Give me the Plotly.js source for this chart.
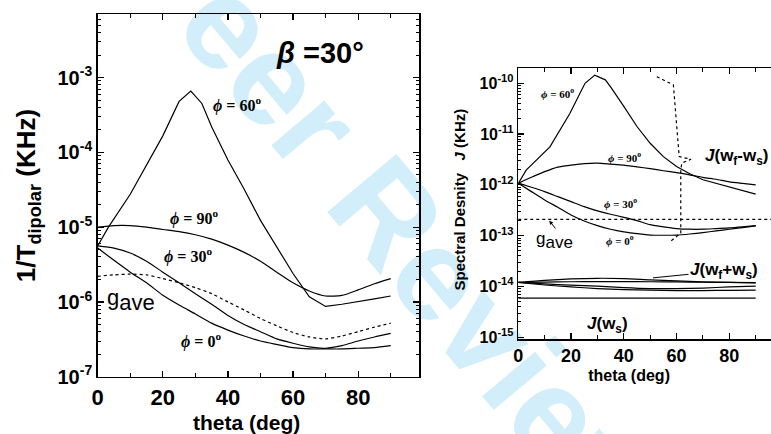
<!DOCTYPE html>
<html><head><meta charset="utf-8">
<script src="https://cdn.plot.ly/plotly-3.0.1.min.js"></script>
<style>html,body{margin:0;padding:0;background:#fff}#chart{width:771px;height:434px}</style>
</head><body><div id="chart"></div>
<script>
// ---------- Left panel data: 1/T_dipolar (KHz) vs theta (deg) ----------
const thetaL = [0,5,10,15,20,25,30,35,40,45,50,55,60,65,70,75,80,85,90];
const thetaL60 = [0,3.3,10,15,20,25,28.6,32,35,40,45,50,55,60,65,70,75,80,85,90];
const leftPhi60 = [5.6e-6,1.0e-5,2.75e-5,6.8e-5,1.66e-4,4.8e-4,6.6e-4,4.5e-4,2.2e-4,7.9e-5,3.2e-5,1.23e-5,5.5e-6,2.4e-6,1.17e-6,8.7e-7,9.3e-7,1.0e-6,1.1e-6,1.2e-6];
const leftPhi90 = [1.0e-5,1.05e-5,1.05e-5,1.0e-5,9.3e-6,8.7e-6,7.9e-6,6.9e-6,5.75e-6,4.6e-6,3.5e-6,2.5e-6,1.8e-6,1.4e-6,1.2e-6,1.22e-6,1.45e-6,1.75e-6,2.05e-6];
const leftPhi30 = [5.6e-6,5.25e-6,4.5e-6,3.5e-6,2.5e-6,1.8e-6,1.29e-6,9.3e-7,6.6e-7,5.0e-7,4.0e-7,3.2e-7,2.8e-7,2.5e-7,2.4e-7,2.6e-7,3.0e-7,3.4e-7,3.8e-7];
const leftPhi0  = [5.25e-6,3.6e-6,2.5e-6,1.8e-6,1.23e-6,9.1e-7,6.9e-7,5.2e-7,4.2e-7,3.5e-7,3.0e-7,2.7e-7,2.45e-7,2.35e-7,2.35e-7,2.35e-7,2.4e-7,2.45e-7,2.6e-7];
const leftGave  = [2.2e-6,2.3e-6,2.35e-6,2.3e-6,2.05e-6,1.8e-6,1.55e-6,1.29e-6,1.0e-6,7.8e-7,6.0e-7,4.8e-7,3.9e-7,3.4e-7,3.2e-7,3.5e-7,4.0e-7,4.6e-7,5.2e-7];
const leftTickVals = [1e-7,1e-6,1e-5,1e-4,1e-3];
const leftTickText = ['10<sup>-7</sup>','10<sup>-6</sup>','10<sup>-5</sup>','10<sup>-4</sup>','10<sup>-3</sup>'];

// ---------- Right panel data: Spectral density J (KHz) vs theta (deg) ----------
const thetaR = [0,5,10,15,20,25,30,35,40,45,50,55,60,65,70,75,80,85,90];
const thetaR60 = [0,3,12,19.6,25.3,29,33,35,40,45,50,55,60,65,70,80,90];
const rightPhi60 = [1.07e-12,1.95e-12,5.6e-12,2.57e-11,1.0e-10,1.45e-10,1.17e-10,8.5e-11,3.5e-11,1.41e-11,6.6e-12,3.6e-12,2.3e-12,1.66e-12,1.26e-12,9.1e-13,6.6e-13];
const rightPhi90 = [1.07e-12,1.41e-12,1.82e-12,2.24e-12,2.45e-12,2.63e-12,2.69e-12,2.57e-12,2.45e-12,2.26e-12,2.09e-12,1.9e-12,1.74e-12,1.58e-12,1.41e-12,1.29e-12,1.15e-12,1.07e-12,1.0e-12];
const rightPhi30 = [1.08e-12,8.97e-13,7.37e-13,5.87e-13,4.68e-13,3.73e-13,3.07e-13,2.64e-13,2.3e-13,1.98e-13,1.65e-13,1.49e-13,1.38e-13,1.34e-13,1.34e-13,1.38e-13,1.42e-13,1.49e-13,1.58e-13];
const rightPhi0  = [1.08e-12,7.37e-13,5.05e-13,3.62e-13,2.56e-13,1.95e-13,1.58e-13,1.34e-13,1.19e-13,1.1e-13,1.03e-13,1.02e-13,1.03e-13,1.08e-13,1.15e-13,1.24e-13,1.34e-13,1.44e-13,1.56e-13];
const thetaGaveR = [0,100];
const rightGave = [2.1e-13,2.1e-13];
const thetaDiff = [52.5,58.8,61.0,65.5,62.0,61.6,61.6,57.5];
const rightDiff = [1.35e-10,9.3e-11,3.6e-12,3.2e-12,2.7e-12,2.0e-12,1.12e-13,7.6e-14];
const thetaSum = [0,10,20,30,40,50,60,70,80,90];
const sumA = [1.2e-14,1.32e-14,1.41e-14,1.45e-14,1.43e-14,1.35e-14,1.29e-14,1.23e-14,1.2e-14,1.17e-14];
const sumB = [1.2e-14,1.22e-14,1.24e-14,1.25e-14,1.25e-14,1.24e-14,1.23e-14,1.21e-14,1.2e-14,1.19e-14];
const sumC = [1.2e-14,1.12e-14,1.06e-14,1.02e-14,9.5e-15,9.1e-15,9.1e-15,9.3e-15,9.8e-15,1.02e-14];
const sumD = [1.2e-14,1.07e-14,9.8e-15,9.1e-15,8.7e-15,8.5e-15,8.3e-15,8.3e-15,8.4e-15,8.5e-15];
const thetaWs = [0,90];
const jWs = [5.9e-15,5.9e-15];
const rightTickVals = [1e-15,1e-14,1e-13,1e-12,1e-11,1e-10];
const rightTickText = ['10<sup>-15</sup>','10<sup>-14</sup>','10<sup>-13</sup>','10<sup>-12</sup>','10<sup>-11</sup>','10<sup>-10</sup>'];
// callout circle around the J(wf+ws) curves: [theta0, theta1, log10 J0, log10 J1]
const circleBox = [39.4, 50.4, -14.23, -13.65];

function line(x, y, xa, ya, dash, shape) {
  return {type:'scatter', mode:'lines', x:x, y:y, xaxis:xa, yaxis:ya,
    line:{color:'#000', width:1.2, dash:dash||'solid', shape:shape||'linear', smoothing:0.6},
    hoverinfo:'skip', showlegend:false};
}

const traces = [
  line(thetaL60, leftPhi60, 'x', 'y'),
  line(thetaL, leftPhi90, 'x', 'y', 'solid', 'spline'),
  line(thetaL, leftPhi30, 'x', 'y', 'solid', 'spline'),
  line(thetaL, leftPhi0, 'x', 'y', 'solid', 'spline'),
  line(thetaL, leftGave, 'x', 'y', 'dot', 'spline'),
  line(thetaR60, rightPhi60, 'x2', 'y2'),
  line(thetaR, rightPhi90, 'x2', 'y2', 'solid', 'spline'),
  line(thetaR, rightPhi30, 'x2', 'y2', 'solid', 'spline'),
  line(thetaR, rightPhi0, 'x2', 'y2', 'solid', 'spline'),
  line(thetaGaveR, rightGave, 'x2', 'y2', 'dot'),
  line(thetaDiff, rightDiff, 'x2', 'y2', 'dot'),
  line(thetaSum, sumA, 'x2', 'y2', 'solid', 'spline'),
  line(thetaSum, sumB, 'x2', 'y2', 'solid', 'spline'),
  line(thetaSum, sumC, 'x2', 'y2', 'solid', 'spline'),
  line(thetaSum, sumD, 'x2', 'y2', 'solid', 'spline'),
  line(thetaWs, jWs, 'x2', 'y2')
];

const SANS = 'Arial, "Liberation Sans", sans-serif';
const SERIF = '"Times New Roman", "Liberation Serif", serif';
const NB = '\u00a0';
const ZW = '\u200b';

function xAxis(domain, range, anchor, tickSize, title, titleSize, standoff) {
  const t = {text:title, font:{family:SANS, size:titleSize, color:'#000', weight:'bold'}};
  if (standoff !== undefined) t.standoff = standoff;
  return {domain:domain, range:range, anchor:anchor, showline:true, linecolor:'#000', linewidth:1.5,
    mirror:'ticks', ticks:'inside', ticklen:6, tickwidth:1.2, tickcolor:'#000', tick0:0, dtick:20,
    minor:{dtick:10, ticks:'inside', ticklen:4, tickwidth:1, tickcolor:'#000', showgrid:false},
    showgrid:false, zeroline:false,
    tickfont:{family:SANS, size:tickSize, color:'#000', weight:'bold'},
    title:t};
}
function yAxis(domain, range, anchor, vals, text, tickSize, title, titleSize, mirror, standoff) {
  const t = {text:title, font:{family:SANS, size:titleSize, color:'#000', weight:'bold'}};
  if (standoff !== undefined) t.standoff = standoff;
  return {type:'log', domain:domain, range:range, anchor:anchor, showline:true, linecolor:'#000', linewidth:1.5,
    mirror:mirror, ticks:'inside', ticklen:6, tickwidth:1.2, tickcolor:'#000',
    tickmode:'array', tickvals:vals, ticktext:text,
    minor:{dtick:'D1', ticks:'inside', ticklen:3, tickwidth:1, tickcolor:'#000', showgrid:false},
    showgrid:false, zeroline:false,
    tickfont:{family:SANS, size:tickSize, color:'#000', weight:'bold'},
    title:t};
}

const layout = {
  width:771, height:434, margin:{l:0, r:0, t:0, b:0},
  paper_bgcolor:'#fff', plot_bgcolor:'rgba(0,0,0,0)', showlegend:false,
  xaxis: xAxis([0.1267, 0.5435], [0, 98.7], 'y', 22, 'theta (deg)'+NB+NB+NB+NB+ZW, 21),
  yaxis: yAxis([0.132, 0.967], [-7, -2.155], 'x', leftTickVals, leftTickText, 20, '1/T<sub>dipolar</sub> (KHz)', 26, 'ticks'),
  xaxis2: xAxis([0.6722, 1.0], [0, 95.8], 'y2', 18, 'theta (deg)'+NB+NB+NB+NB+NB+NB+NB+ZW, 16, 4),
  yaxis2: yAxis([0.2182, 0.8426], [-15.04, -9.705], 'x2', rightTickVals, rightTickText, 16,
    ZW+NB+NB+'Spectral Desnity'+NB+NB+NB+'<i>J</i> (KHz)', 15, false, 10),
  shapes: [
    {type:'circle', xref:'x2', yref:'y2', x0:circleBox[0], x1:circleBox[1], y0:circleBox[2], y1:circleBox[3],
     line:{color:'#000', width:1, dash:'dot'}}
  ],
  annotations: [
    {text:'For Peer Review', xref:'paper', yref:'paper', x:0.4137, y:0.696, xanchor:'center', yanchor:'middle',
     showarrow:false, textangle:50,
     font:{family:SANS, size:131, color:'#d2eefa', weight:'bold'}},
    // left panel labels
    {text:'<i>β</i> =30°', xref:'x', yref:'y', x:68.3, y:-2.674, showarrow:false, font:{family:SANS, size:29, color:'#000', weight:'bold'}},
    {text:'<i>ϕ</i> = 60<sup>o</sup>', xref:'x', yref:'y', x:42.8, y:-3.354, showarrow:false, font:{family:SERIF, size:16, color:'#000', weight:'bold'}},
    {text:'<i>ϕ</i> = 90<sup>o</sup>', xref:'x', yref:'y', x:29.6, y:-4.878, showarrow:false, font:{family:SERIF, size:16, color:'#000', weight:'bold'}},
    {text:'<i>ϕ</i> = 30<sup>o</sup>', xref:'x', yref:'y', x:27.7, y:-5.386, showarrow:false, font:{family:SERIF, size:16, color:'#000', weight:'bold'}},
    {text:'<i>ϕ</i> = 0<sup>o</sup>', xref:'x', yref:'y', x:31.8, y:-6.522, showarrow:false, font:{family:SERIF, size:16, color:'#000', weight:'bold'}},
    {text:'g<sub><span style="font-size:22px">ave</span></sub>', xref:'x', yref:'y', x:10.3, y:-5.977, showarrow:false, font:{family:SANS, size:22, color:'#000'}},
    // right panel labels
    {text:'<i>ϕ</i> = 60<sup>o</sup>', xref:'x2', yref:'y2', x:14.7, y:-10.19, showarrow:false, font:{family:SERIF, size:11, color:'#000', weight:'bold'}},
    {text:'<i>ϕ</i> = 90<sup>o</sup>', xref:'x2', yref:'y2', x:40.4, y:-11.45, showarrow:false, font:{family:SERIF, size:11, color:'#000', weight:'bold'}},
    {text:'<i>ϕ</i> = 30<sup>o</sup>', xref:'x2', yref:'y2', x:38.6, y:-12.36, showarrow:false, font:{family:SERIF, size:11, color:'#000', weight:'bold'}},
    {text:'<i>ϕ</i> = 0<sup>o</sup>', xref:'x2', yref:'y2', x:38.6, y:-13.08, showarrow:false, font:{family:SERIF, size:11, color:'#000', weight:'bold'}},
    {text:'g<sub><span style="font-size:17px">ave</span></sub>', xref:'x2', yref:'y2', x:13.9, y:-13.10, showarrow:false, font:{family:SANS, size:17, color:'#000'}},
    {text:'', xref:'x2', yref:'y2', x:11.75, y:-12.705, ax:7.4, ay:9.3, showarrow:true, arrowhead:2, arrowsize:0.8, arrowwidth:1, arrowcolor:'#000'},
    {text:'<i>J</i>(w<sub>f</sub>-w<sub>s</sub>)', xref:'x2', yref:'y2', x:82.9, y:-11.45, showarrow:false, font:{family:SANS, size:17, color:'#000', weight:'bold'}},
    {text:'<i>J</i>(w<sub>f</sub>+w<sub>s</sub>)', xref:'x2', yref:'y2', x:51.1, y:-13.83, ax:71, ay:-7, showarrow:true, arrowhead:0, arrowwidth:1, arrowcolor:'#000', font:{family:SANS, size:17, color:'#000', weight:'bold'}},
    {text:'<i>J</i>(w<sub>s</sub>)', xref:'x2', yref:'y2', x:34.0, y:-14.76, showarrow:false, font:{family:SANS, size:17, color:'#000', weight:'bold'}}
  ]
};

const gd = document.getElementById('chart');
Plotly.newPlot(gd, traces, layout, {displayModeBar:false, staticPlot:true}).then(function() {
  // put the watermark behind the plot content, as in the reference
  const ann = gd.querySelector('.infolayer .annotation[data-index="0"]');
  const paper = gd.querySelector('.main-svg');
  const bg = paper.querySelector('.bglayer');
  if (ann && bg) paper.insertBefore(ann, bg.nextSibling);
});
</script></body></html>
